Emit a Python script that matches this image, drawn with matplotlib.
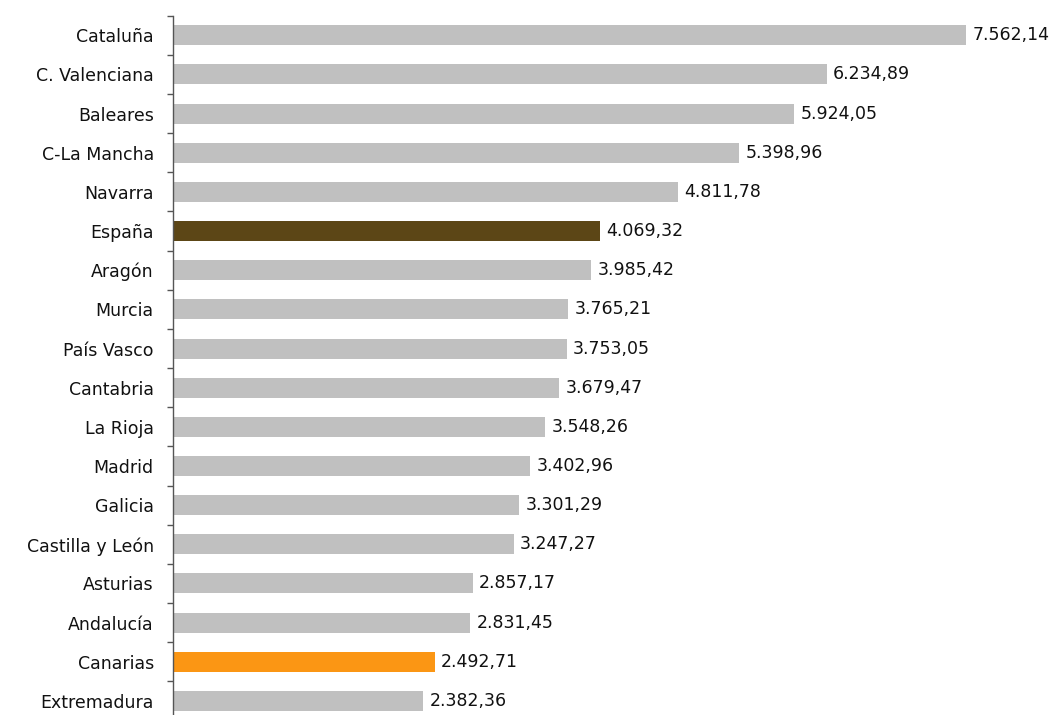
import numpy as np
import matplotlib
matplotlib.use("Agg")
import matplotlib.pyplot as plt
from matplotlib.ticker import FixedLocator

regions = ["Cataluña", "C. Valenciana", "Baleares", "C-La Mancha", "Navarra",
           "España", "Aragón", "Murcia", "País Vasco", "Cantabria", "La Rioja",
           "Madrid", "Galicia", "Castilla y León", "Asturias", "Andalucía",
           "Canarias", "Extremadura"]
values = [7562.14, 6234.89, 5924.05, 5398.96, 4811.78, 4069.32, 3985.42,
          3765.21, 3753.05, 3679.47, 3548.26, 3402.96, 3301.29, 3247.27,
          2857.17, 2831.45, 2492.71, 2382.36]
highlight = {"España": "#5C4616", "Canarias": "#FB9614"}


def fmt_es(v):
    s = f"{v:,.2f}"
    return s.replace(",", "X").replace(".", ",").replace("X", ".")


W, H = 1063, 715
fig = plt.figure(figsize=(W / 100, H / 100), dpi=100)
# axes runs slightly past the bottom edge, as in the cropped original
left, top, bottom, right = 173.3, 15.7, 720.5, 1063
ax = fig.add_axes([left / W, 1 - bottom / H, (right - left) / W, (bottom - top) / H])

n = len(regions)
y = np.arange(n)
colors = [highlight.get(r, "#C0C0C0") for r in regions]
ax.barh(y, values, height=0.51, color=colors, zorder=2)

xmax = 7562.14 * (right - left) / (966 - left)
ax.set_xlim(0, xmax)
ax.set_ylim(n - 0.5, -0.5)

for yi, v in zip(y, values):
    ax.annotate(fmt_es(v), (v, yi), xytext=(4.5, 0), textcoords="offset points",
                va="center", ha="left", fontsize=12.5, color="#111111")

ax.set_yticks(y)
ax.set_yticklabels(regions, fontsize=12.5, color="#111111")
ax.tick_params(axis="y", which="major", length=0, pad=14)
ax.yaxis.set_minor_locator(FixedLocator(np.arange(-0.5, n, 1.0)))
ax.tick_params(axis="y", which="minor", length=4.5, width=1, color="#555555")

ax.set_xticks([])
for side in ["top", "right", "bottom"]:
    ax.spines[side].set_visible(False)
ax.spines["left"].set_color("#555555")
ax.spines["left"].set_linewidth(1)

fig.savefig("out.png", dpi=100)
